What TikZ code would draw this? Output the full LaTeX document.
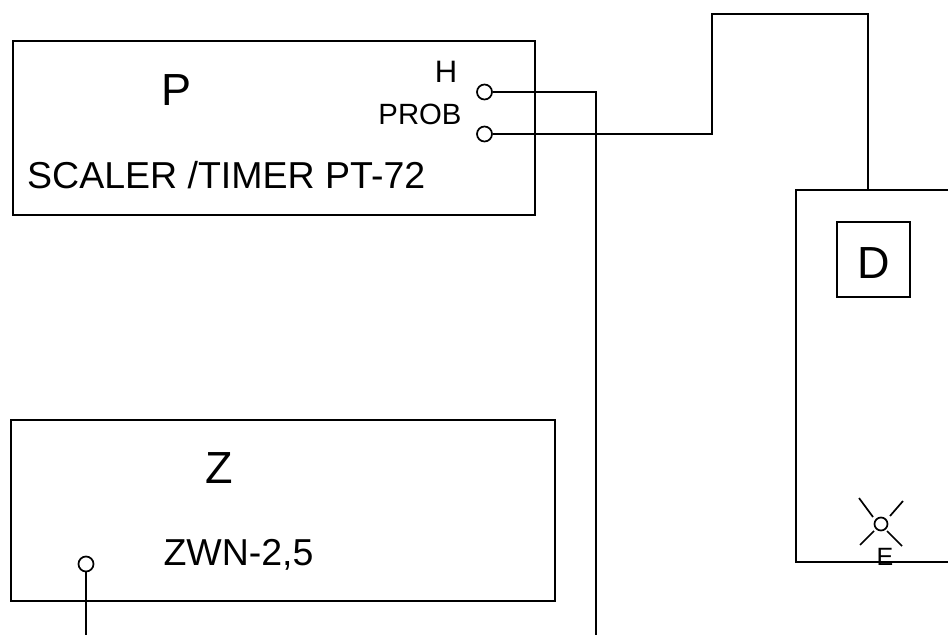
\documentclass[tikz,border=0pt]{standalone}
\usepackage{fontspec}
\setmainfont{Liberation Sans}
\begin{document}
\begin{tikzpicture}[x=1pt,y=-1pt,
  boxst/.style={draw=black,line width=1.7pt,fill=none,inner sep=0pt,anchor=north west},
  wire/.style={draw=black,line width=1.7pt},
  term/.style={circle,draw=black,line width=1.7pt,minimum size=15pt,inner sep=0pt},
  lab/.style={inner sep=0pt,text=black}]
\useasboundingbox (0,0) rectangle (948,635);
\node[boxst,minimum width=522pt,minimum height=174pt] (pbox) at (12.2,40.2) {};
\node[boxst,minimum width=544pt,minimum height=181pt] (zbox) at (10.2,419.2) {};
\node[boxst,minimum width=200pt,minimum height=372pt] (dbox) at (795.2,189.2) {};
\node[boxst,minimum width=73pt,minimum height=75pt] (dinner) at (836.2,221.2) {};
\node[lab,font=\fontsize{45}{45}\selectfont] at (177,90) {P};
\node[lab,font=\fontsize{45}{45}\selectfont] at (219,468) {Z};
\node[lab,font=\fontsize{45}{45}\selectfont] at (874,263) {D};
\node[lab,font=\fontsize{31}{31}\selectfont] at (446,72) {H};
\node[lab,font=\fontsize{29.3}{29.3}\selectfont] at (420,114) {PROB};
\node[lab,font=\fontsize{37.5}{37.5}\selectfont,anchor=west] at (27,175) {SCALER /TIMER PT-72};
\node[lab,font=\fontsize{37.5}{37.5}\selectfont] at (238.5,555) {ZWN-2,5};
\node[term] (h) at (484.5,92) {};
\node[term] (pr) at (484.5,134) {};
\node[term] (zt) at (86,564) {};
\node[term,minimum size=13pt] (e) at (881,524) {};
\node[lab,font=\fontsize{25}{25}\selectfont] at (885,557) {E};
\coordinate (hc) at (596,92);
\coordinate (hb) at (596,635);
\coordinate (a) at (712,134);
\coordinate (b) at (712,14);
\coordinate (c) at (868,14);
\coordinate (d) at (868,190);
\coordinate (zb) at (86,635);
\draw[wire] (h) -- (hc) -- (hb);
\draw[wire] (pr) -- (a) -- (b) -- (c) -- (d);
\draw[wire] (zt) -- (zb);
\coordinate (e1a) at (859,498);
\coordinate (e1b) at (873,517);
\coordinate (e2a) at (903,501);
\coordinate (e2b) at (890,516);
\coordinate (e3a) at (860,545);
\coordinate (e3b) at (874,531);
\coordinate (e4a) at (902,546);
\coordinate (e4b) at (887,531);
\draw[wire] (e1a) -- (e1b);
\draw[wire] (e2a) -- (e2b);
\draw[wire] (e3a) -- (e3b);
\draw[wire] (e4a) -- (e4b);
\end{tikzpicture}
\end{document}
